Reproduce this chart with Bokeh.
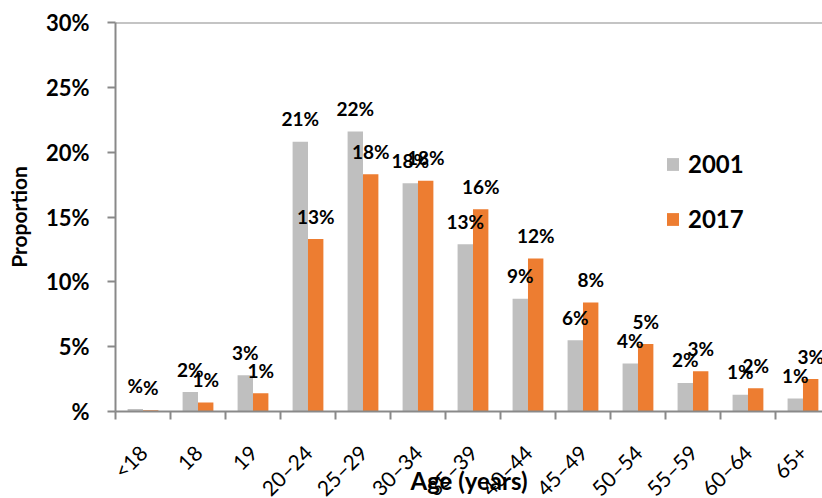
import math
import numpy as np
from bokeh.plotting import figure
from bokeh.models import (ColumnDataSource, Range1d, FixedTicker, LabelSet,
                          Legend, LegendItem, Span)
from bokeh.core.properties import value
from bokeh.transform import dodge
from bokeh.embed import file_html
from bokeh.resources import INLINE

categories = ["<18", "18", "19", "20–24", "25–29", "30–34", "35–39",
              "40–44", "45–49", "50–54", "55–59", "60–64", "65+"]
values_2001 = [0.2, 1.5, 2.8, 20.8, 21.6, 17.6, 12.9, 8.7, 5.5, 3.7, 2.2, 1.3, 1.0]
values_2017 = [0.1, 0.7, 1.4, 13.3, 18.3, 17.8, 15.6, 11.8, 8.4, 5.2, 3.1, 1.8, 2.5]
labels_2001 = ["%", "2%", "3%", "21%", "22%", "18%", "13%", "9%", "6%", "4%", "2%", "1%", "1%"]
labels_2017 = ["%", "1%", "1%", "13%", "18%", "18%", "16%", "12%", "8%", "5%", "3%", "2%", "3%"]
y_ticks = [0, 5, 10, 15, 20, 25, 30]
y_tick_labels = ["%", "5%", "10%", "15%", "20%", "25%", "30%"]

FONT = "Lato"
AXIS_COLOR = "#898989"
GRAY = "#BFBFBF"
ORANGE = "#ED7D31"

centers = np.arange(len(categories)) + 0.5
src = ColumnDataSource(dict(x=centers, v01=values_2001, v17=values_2017,
                            l01=labels_2001, l17=labels_2017))

p = figure(width=822, height=498, output_backend="svg", toolbar_location=None,
           x_range=Range1d(0, 12.855), y_range=Range1d(0, 30),
           min_border_left=115, min_border_right=0, min_border_top=22,
           min_border_bottom=87)
p.outline_line_color = None
p.grid.visible = False
p.background_fill_color = "white"
p.border_fill_color = "white"

bw = 0.28
r1 = p.vbar(x=dodge("x", -bw / 2), top="v01", width=bw, source=src,
            fill_color=GRAY, line_color=None)
r2 = p.vbar(x=dodge("x", bw / 2), top="v17", width=bw, source=src,
            fill_color=ORANGE, line_color=None)

for xoff, col, lab in [(-bw / 2, "v01", "l01"), (bw / 2, "v17", "l17")]:
    ls = LabelSet(x=dodge("x", xoff), y=col, text=lab, source=src,
                  text_align="center", text_baseline="middle", y_offset=23,
                  text_font=value(FONT), text_font_size=value("19px"),
                  text_font_style="bold", text_color="black")
    p.add_layout(ls)

p.add_layout(Span(location=30, dimension="width", line_color=AXIS_COLOR, line_width=2))

# x axis
xa = p.xaxis[0]
xa.ticker = FixedTicker(ticks=list(centers), minor_ticks=list(range(len(categories) + 1)))
xa.major_label_overrides = {float(c): n for c, n in zip(centers, categories)}
xa.major_tick_out = 0
xa.major_tick_in = 0
xa.minor_tick_out = 8
xa.minor_tick_in = 0
xa.minor_tick_line_color = AXIS_COLOR
xa.minor_tick_line_width = 2
xa.axis_line_color = AXIS_COLOR
xa.axis_line_width = 2
xa.major_label_orientation = math.pi / 4
xa.major_label_text_font = FONT
xa.major_label_text_font_size = "21px"
xa.major_label_text_color = "black"
xa.major_label_standoff = 29
xa.axis_label = "Age (years)"
xa.axis_label_text_font = FONT
xa.axis_label_text_font_size = "24px"
xa.axis_label_text_font_style = "bold"
xa.axis_label_text_color = "black"
xa.axis_label_standoff = -46

# y axis
ya = p.yaxis[0]
ya.ticker = FixedTicker(ticks=y_ticks, minor_ticks=[])
ya.major_label_overrides = {t: l for t, l in zip(y_ticks, y_tick_labels)}
ya.major_tick_out = 8
ya.major_tick_in = 0
ya.major_tick_line_color = AXIS_COLOR
ya.major_tick_line_width = 2
ya.axis_line_color = AXIS_COLOR
ya.axis_line_width = 2
ya.major_label_text_font = FONT
ya.major_label_text_font_size = "22px"
ya.major_label_text_font_style = "bold"
ya.major_label_text_color = "black"
ya.major_label_standoff = 18
ya.axis_label = "Proportion"
ya.axis_label_text_font = FONT
ya.axis_label_text_font_size = "21px"
ya.axis_label_text_font_style = "bold"
ya.axis_label_text_color = "black"
ya.axis_label_standoff = 12

legend = Legend(items=[LegendItem(label="2001", renderers=[r1]),
                       LegendItem(label="2017", renderers=[r2])],
                location=(550, 178), orientation="vertical",
                glyph_width=15, glyph_height=16, label_standoff=8, spacing=26,
                padding=0, margin=0, border_line_color=None,
                background_fill_alpha=0, label_text_font=FONT,
                label_text_font_size="24px", label_text_font_style="bold",
                label_text_color="black", label_height=16)
p.add_layout(legend, "center")

open("out.html", "w").write(file_html(p, INLINE))
